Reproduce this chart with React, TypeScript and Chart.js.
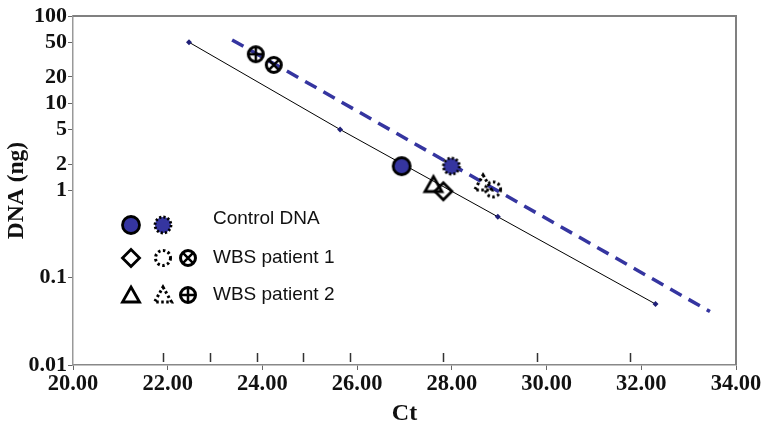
import React, { useEffect, useRef } from 'react';
import { Chart, registerables } from 'chart.js';

Chart.register(...registerables);

// ---- data ----
const X_TICKS = [20, 22, 24, 26, 28, 30, 32, 34];
const Y_TICKS = [0.01, 0.1, 1, 2, 5, 10, 20, 50, 100];
const STD_CT = [22.45, 25.64, 28.97, 32.3];
const STD_DNA = [50, 5, 0.5, 0.05];
const FIT_CT = [23.36, 33.45];
const FIT_DNA = [53.2, 0.041];
const CONTROL_CT = [26.94, 27.99];
const CONTROL_DNA = [1.9, 1.9];
const P1_CT = [27.82, 28.87, 24.24];
const P1_DNA = [0.98, 1.03, 27.5];
const P2_CT = [27.61, 28.66, 23.86];
const P2_DNA = [1.17, 1.22, 36.5];
const STRAY_TICKS = [21.9, 22.89, 23.88, 24.86, 25.85, 27.81, 29.8, 31.76];
const LEGEND_LABELS = ['Control DNA', 'WBS patient 1', 'WBS patient 2'];
const CONTROL_MARKERS = ['circleFill', 'starDot'];
const P1_MARKERS = ['diamond', 'dotCircle', 'crossCircle'];
const P2_MARKERS = ['triangle', 'dotTriangle', 'plusCircle'];

const BLUE = '#3535a0';
const SERIF = "'Times New Roman', 'Liberation Serif', serif";
const SANS = "Arial, 'Liberation Sans', sans-serif";

function drawMarker(ctx: CanvasRenderingContext2D, kind: string, x: number, y: number) {
  ctx.save();
  ctx.strokeStyle = '#000';
  ctx.lineJoin = 'miter';
  ctx.setLineDash([]);
  const circ = (r: number) => {
    ctx.beginPath();
    ctx.arc(x, y, r, 0, Math.PI * 2);
  };
  const tri = () => {
    ctx.beginPath();
    ctx.moveTo(x, y - 8);
    ctx.lineTo(x + 8.5, y + 7);
    ctx.lineTo(x - 8.5, y + 7);
    ctx.closePath();
  };
  switch (kind) {
    case 'circleFill':
      circ(8.5);
      ctx.fillStyle = BLUE;
      ctx.fill();
      ctx.lineWidth = 2.8;
      ctx.stroke();
      break;
    case 'starDot':
      circ(8);
      ctx.fillStyle = BLUE;
      ctx.fill();
      ctx.setLineDash([2.2, 2]);
      ctx.lineWidth = 2.8;
      ctx.stroke();
      break;
    case 'diamond':
      ctx.beginPath();
      ctx.moveTo(x, y - 8.5);
      ctx.lineTo(x + 8.5, y);
      ctx.lineTo(x, y + 8.5);
      ctx.lineTo(x - 8.5, y);
      ctx.closePath();
      ctx.lineWidth = 2.8;
      ctx.stroke();
      break;
    case 'triangle':
      tri();
      ctx.lineWidth = 2.8;
      ctx.stroke();
      break;
    case 'dotCircle':
      circ(7.5);
      ctx.setLineDash([2.5, 2.5]);
      ctx.lineWidth = 3;
      ctx.stroke();
      break;
    case 'dotTriangle':
      tri();
      ctx.setLineDash([2.5, 2.5]);
      ctx.lineWidth = 3;
      ctx.stroke();
      break;
    case 'plusCircle':
      circ(7.5);
      ctx.lineWidth = 3;
      ctx.stroke();
      ctx.lineWidth = 2.5;
      ctx.beginPath();
      ctx.moveTo(x - 7.5, y);
      ctx.lineTo(x + 7.5, y);
      ctx.moveTo(x, y - 7.5);
      ctx.lineTo(x, y + 7.5);
      ctx.stroke();
      break;
    case 'crossCircle': {
      circ(7.5);
      ctx.lineWidth = 3;
      ctx.stroke();
      const d = 7.5 * Math.SQRT1_2;
      ctx.lineWidth = 2.5;
      ctx.beginPath();
      ctx.moveTo(x - d, y - d);
      ctx.lineTo(x + d, y + d);
      ctx.moveTo(x + d, y - d);
      ctx.lineTo(x - d, y + d);
      ctx.stroke();
      break;
    }
  }
  ctx.restore();
}

function makeMarker(kind: string): HTMLCanvasElement {
  const c = document.createElement('canvas');
  c.width = 26;
  c.height = 26;
  const ctx = c.getContext('2d')!;
  drawMarker(ctx, kind, 13, 13);
  return c;
}

const pts = (xs: number[], ys: number[]) => xs.map((x, i) => ({ x, y: ys[i] }));

const decorPlugin = {
  id: 'decor',
  afterDraw(chart: any) {
    const { ctx, chartArea: a, scales } = chart;
    ctx.save();
    // top and right frame
    ctx.strokeStyle = '#808080';
    ctx.lineWidth = 2;
    ctx.beginPath();
    ctx.moveTo(a.left, a.top);
    ctx.lineTo(a.right, a.top);
    ctx.lineTo(a.right, a.bottom);
    ctx.stroke();
    // stray inner ticks
    ctx.strokeStyle = '#333';
    ctx.lineWidth = 1.5;
    ctx.beginPath();
    STRAY_TICKS.forEach((v) => {
      const px = Math.round(scales.x.getPixelForValue(v)) + 0.5;
      ctx.moveTo(px, a.bottom - 12);
      ctx.lineTo(px, a.bottom - 3);
    });
    ctx.stroke();
    // legend
    const rows = [
      { y: a.top + 209, ty: a.top + 203, markers: CONTROL_MARKERS },
      { y: a.top + 242, ty: a.top + 242, markers: P1_MARKERS },
      { y: a.top + 279, ty: a.top + 279, markers: P2_MARKERS },
    ];
    const mx = [a.left + 58, a.left + 90, a.left + 115];
    ctx.font = `19px ${SANS}`;
    ctx.fillStyle = '#111';
    ctx.textBaseline = 'middle';
    ctx.textAlign = 'left';
    rows.forEach((r, i) => {
      r.markers.forEach((m, j) => drawMarker(ctx, m, mx[j], r.y));
      ctx.fillText(LEGEND_LABELS[i], a.left + 140, r.ty);
    });
    ctx.restore();
  },
};

export default function App() {
  const ref = useRef<HTMLCanvasElement>(null);
  useEffect(() => {
    document.body.style.margin = '0';
    const canvas = ref.current!;
    const chart = new Chart(canvas, {
      type: 'scatter',
      data: {
        datasets: [
          {
            data: pts(CONTROL_CT, CONTROL_DNA),
            pointStyle: CONTROL_MARKERS.map(makeMarker) as any,
            showLine: false,
          },
          {
            data: pts(P1_CT, P1_DNA),
            pointStyle: P1_MARKERS.map(makeMarker) as any,
            showLine: false,
          },
          {
            data: pts(P2_CT, P2_DNA),
            pointStyle: P2_MARKERS.map(makeMarker) as any,
            showLine: false,
          },
          {
            data: pts(STD_CT, STD_DNA),
            showLine: true,
            borderColor: '#000',
            borderWidth: 1,
            pointStyle: 'rectRot',
            pointRadius: 3,
            pointBackgroundColor: '#202078',
            pointBorderColor: '#202078',
            pointBorderWidth: 0,
          },
          {
            data: pts(FIT_CT, FIT_DNA),
            showLine: true,
            borderColor: BLUE,
            borderWidth: 3.5,
            borderDash: [13, 8],
            pointRadius: 0,
          },
        ],
      },
      options: {
        animation: false,
        responsive: false,
        devicePixelRatio: 1,
        layout: { padding: { left: 0, right: 30, top: 16, bottom: 0 } },
        plugins: { legend: { display: false }, tooltip: { enabled: false } },
        scales: {
          x: {
            type: 'linear',
            min: 20,
            max: 34,
            afterBuildTicks: (s: any) => {
              s.ticks = X_TICKS.map((v) => ({ value: v }));
            },
            afterFit: (s: any) => {
              s.height = 66;
            },
            ticks: {
              autoSkip: false,
              maxRotation: 0,
              padding: 1,
              color: '#111',
              font: { family: SERIF, size: 22.5, weight: 'bold' },
              callback: (v: any) => Number(v).toFixed(2),
            },
            grid: {
              drawOnChartArea: false,
              drawTicks: true,
              tickLength: 5,
              color: '#666',
            },
            border: { display: true, color: '#888', width: 1.5 },
            title: {
              display: true,
              text: 'Ct',
              color: '#111',
              font: { family: SERIF, size: 24, weight: 'bold' },
              padding: { top: 0, bottom: 3 },
            },
          },
          y: {
            type: 'logarithmic',
            min: 0.01,
            max: 100,
            afterBuildTicks: (s: any) => {
              s.ticks = Y_TICKS.map((v) => ({ value: v }));
            },
            afterFit: (s: any) => {
              s.width = 73;
            },
            ticks: {
              autoSkip: false,
              padding: 1,
              color: '#111',
              font: { family: SERIF, size: 22, weight: 'bold' },
              callback: (v: any) => String(v),
            },
            grid: {
              drawOnChartArea: false,
              drawTicks: true,
              tickLength: 5,
              color: '#666',
            },
            border: { display: true, color: '#999', width: 1.5 },
            title: {
              display: true,
              text: 'DNA (ng)',
              color: '#111',
              font: { family: SERIF, size: 23.5, weight: 'bold' },
              padding: { top: 3, bottom: 0 },
            },
          },
        },
      },
      plugins: [decorPlugin],
    });
    return () => chart.destroy();
  }, []);
  return <canvas ref={ref} width={766} height={431} style={{ display: 'block' }} />;
}
